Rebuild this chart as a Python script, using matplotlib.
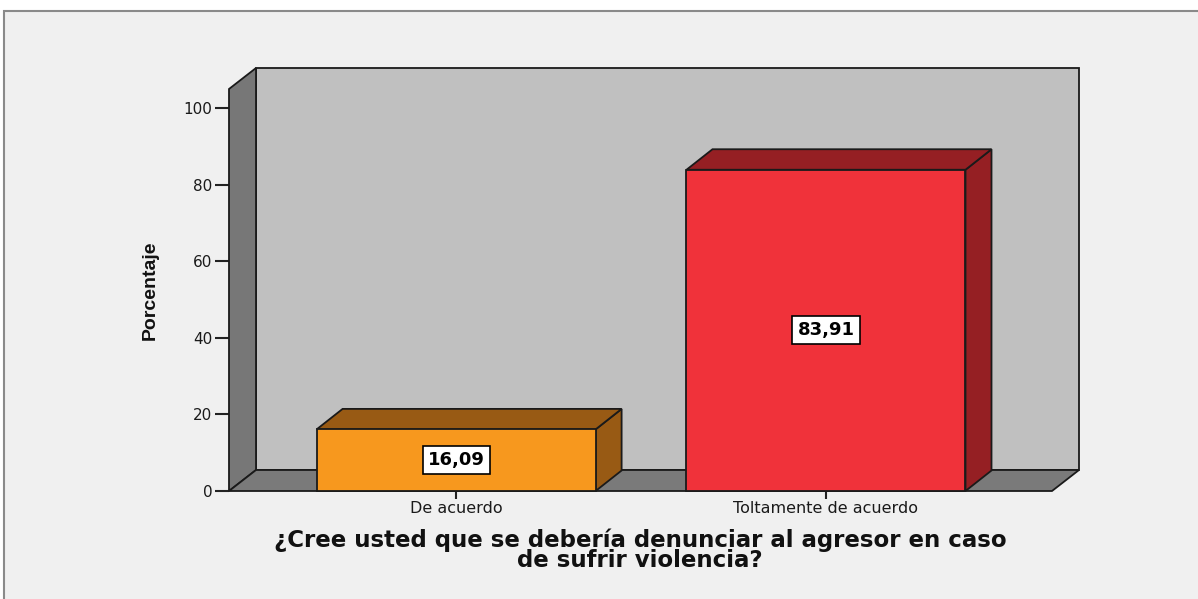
import matplotlib
matplotlib.use("Agg")
import matplotlib.pyplot as plt
from matplotlib.patches import Polygon, Rectangle

categories = ["De acuerdo", "Toltamente de acuerdo"]
values = [16.09, 83.91]
value_labels = ["16,09", "83,91"]
yticks = [0, 20, 40, 60, 80, 100]
front_colors = ["#f7981e", "#f0323a"]
dark_colors = ["#985a14", "#951f23"]
xlabel = "¿Cree usted que se debería denunciar al agresor en caso\nde sufrir violencia?"
ylabel = "Porcentaje"

W, H = 1198, 599
fig = plt.figure(figsize=(W / 100, H / 100), dpi=100)
fig.patch.set_facecolor("white")
frame = Rectangle((4 / W, -0.1), 1.2, (H - 11) / H + 0.1, transform=fig.transFigure,
                  facecolor="#f0f0f0", edgecolor="#8a8a8a", linewidth=1.5, zorder=-10)
fig.add_artist(frame)

ax = fig.add_axes([229 / W, (H - 491) / H, (1052 - 229) / W, 402 / H])
ax.set_zorder(1)
ax.set_facecolor("none")
xl, xr = -0.614, 1.611
ymax = 105
ax.set_xlim(xl, xr)
ax.set_ylim(0, ymax)
for s in ax.spines.values():
    s.set_visible(False)

# depth offsets in data units (approx 27 px right, 21 px up)
px_x = (xr - xl) / (1052 - 229)
px_y = ymax / 402
dx, dy = 27 * px_x, 21 * px_y
ec = "#1a1a1a"
lw = 1.3

# back wall
ax.add_patch(Polygon([(xl + dx, dy), (xr + dx, dy), (xr + dx, ymax + dy), (xl + dx, ymax + dy)],
                     closed=True, facecolor="#c0c0c0", edgecolor=ec, lw=lw, clip_on=False, zorder=1))
# left wall
ax.add_patch(Polygon([(xl, 0), (xl, ymax), (xl + dx, ymax + dy), (xl + dx, dy)],
                     closed=True, facecolor="#777777", edgecolor=ec, lw=lw, clip_on=False, zorder=2))
# floor
ax.add_patch(Polygon([(xl, 0), (xr, 0), (xr + dx, dy), (xl + dx, dy)],
                     closed=True, facecolor="#7a7a7a", edgecolor=ec, lw=lw, clip_on=False, zorder=2))

bw = 279 * px_x
bdx, bdy = 26 * px_x, 20.5 * px_y
for i, (v, fc, dc, lab) in enumerate(zip(values, front_colors, dark_colors, value_labels)):
    l, r = i - bw / 2, i + bw / 2
    ax.add_patch(Polygon([(r, 0), (r + bdx, bdy), (r + bdx, v + bdy), (r, v)], closed=True,
                         facecolor=dc, edgecolor=ec, lw=lw, clip_on=False, zorder=3))
    ax.add_patch(Polygon([(l, v), (r, v), (r + bdx, v + bdy), (l + bdx, v + bdy)], closed=True,
                         facecolor=dc, edgecolor=ec, lw=lw, clip_on=False, zorder=3))
    ax.add_patch(Rectangle((l, 0), bw, v, facecolor=fc, edgecolor=ec, lw=lw, clip_on=False, zorder=4))
    ax.text(i, v / 2, lab, ha="center", va="center", fontsize=13, fontweight="bold",
            family="DejaVu Sans", color="black", zorder=6,
            bbox=dict(boxstyle="square,pad=0.28", facecolor="white", edgecolor="black", lw=1.2))

ax.set_yticks(yticks)
ax.set_yticklabels([str(t) for t in yticks], family="DejaVu Sans", fontsize=11, color="#1a1a1a")
ax.set_xticks(range(len(categories)))
ax.set_xticklabels(categories, family="DejaVu Sans", fontsize=11.5, color="#1a1a1a")
ax.tick_params(axis="y", length=10, width=1.5, color="#222222", pad=2)
ax.tick_params(axis="x", length=6, width=1.5, color="#222222", pad=1.5)

fig.text(640 / W, (H - 550) / H, xlabel, ha="center", va="center", fontsize=16.5,
         fontweight="bold", family="DejaVu Sans", linespacing=0.85, color="#111111")
fig.text(150 / W, (H - 290) / H, ylabel, ha="center", va="center", rotation=90, fontsize=14,
         fontweight="bold", family="Liberation Sans", color="#111111")

fig.savefig("out.png", dpi=100)
